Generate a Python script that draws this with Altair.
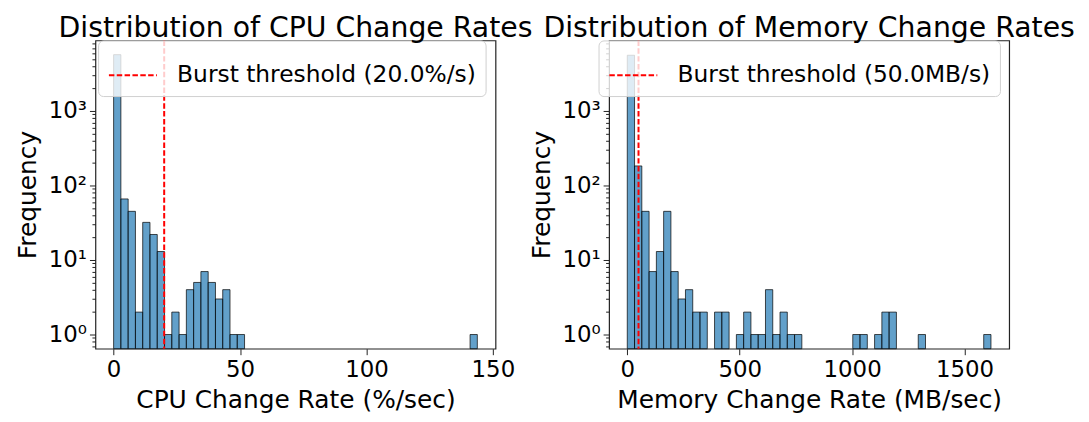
import altair as alt
import pandas as pd

# ---- data (50 bins each) ----
cpu_counts = [5700, 66, 45, 2, 32, 22, 13, 1, 2, 1,
              4, 5, 7, 5, 3, 4, 1, 1, 0, 0,
              0, 0, 0, 0, 0, 0, 0, 0, 0, 0,
              0, 0, 0, 0, 0, 0, 0, 0, 0, 0,
              0, 0, 0, 0, 0, 0, 0, 0, 0, 1]
mem_counts = [5600, 183, 45, 7, 13, 45, 7, 3, 4, 2,
              2, 0, 2, 2, 0, 1, 2, 1, 1, 4,
              1, 2, 1, 1, 0, 0, 0, 0, 0, 0,
              0, 1, 1, 0, 1, 2, 2, 0, 0, 0,
              1, 0, 0, 0, 0, 0, 0, 0, 0, 1]
cpu_range = [0.0, 143.85]
mem_range = [0.0, 1617.6]
cpu_threshold = 20.0
mem_threshold = 50.0
cpu_label = "Burst threshold (20.0%/s)"
mem_label = "Burst threshold (50.0MB/s)"
cpu_xticks = [0, 50, 100, 150]
mem_xticks = [0, 500, 1000, 1500]
y_major = [1, 10, 100, 1000]
y_minor = [0.7, 0.8, 0.9, 2, 3, 4, 5, 6, 7, 8, 9, 20, 30, 40, 50, 60, 70, 80, 90,
           200, 300, 400, 500, 600, 700, 800, 900, 2000, 3000, 4000, 5000, 6000, 7000, 8000]
y_domain = [0.645, 8850]

FONT = "DejaVu Sans"
W, H = 402.7, 310.3
SUP = "['\u2070','\u00b9','\u00b2','\u00b3','\u2074']"


def hist_df(counts, rng):
    n = len(counts)
    w = (rng[1] - rng[0]) / n
    rows = [{"start": rng[0] + i * w, "end": rng[0] + (i + 1) * w, "count": c}
            for i, c in enumerate(counts) if c > 0]
    return pd.DataFrame(rows)


def panel(counts, rng, xdomain, xticks, thr, label, xtitle, title, legx):
    df = hist_df(counts, rng)
    xscale = alt.Scale(domain=xdomain, nice=False, zero=False)
    yscale = alt.Scale(type="log", domain=y_domain, nice=False)
    xaxis = alt.Axis(values=xticks, format="d", labelFlush=False, domain=False, grid=False,
                     tickSize=6, tickColor="#222", labelFontSize=23, labelFont=FONT,
                     labelColor="black", labelPadding=4, title=xtitle, titleFont=FONT,
                     titleFontSize=25, titleFontWeight="normal", titleColor="black",
                     titlePadding=6)
    base = alt.Chart(df)
    bars = base.mark_bar(fill="#1f77b4", stroke="black", strokeWidth=1,
                         fillOpacity=0.7, strokeOpacity=0.7).encode(
        x=alt.X("start:Q", scale=xscale, axis=xaxis, title=xtitle),
        x2="end:Q",
        y=alt.Y("count:Q", scale=yscale,
                axis=alt.Axis(values=y_major, orient="left", domain=False, grid=False,
                              tickSize=6, tickColor="#222", labelFontSize=23,
                              labelFont=FONT, labelColor="black", labelPadding=3,
                              labelExpr="'10' + " + SUP + "[round(log(datum.value)/LN10)]",
                              title="Frequency", titleFont=FONT, titleFontSize=25,
                              titleFontWeight="normal", titleColor="black",
                              titlePadding=7.5)),
        y2=alt.datum(y_domain[0]),
    )
    minor = base.mark_bar(opacity=0).encode(
        x=alt.X("start:Q", scale=xscale, axis=xaxis, title=xtitle),
        x2="end:Q",
        y=alt.Y("count:Q", scale=yscale,
                axis=alt.Axis(values=y_minor, orient="left", domain=False, grid=False,
                              labels=False, tickSize=3.5, tickColor="#222", title=None)),
        y2=alt.datum(y_domain[0]),
    )
    tdf = pd.DataFrame({"threshold": [thr], "label": [label]})
    rule = alt.Chart(tdf).mark_rule(strokeDash=[5.5, 2.4], strokeWidth=2).encode(
        x=alt.X("threshold:Q", scale=xscale, axis=xaxis, title=xtitle),
        color=alt.Color("label:N", scale=alt.Scale(domain=[label], range=["#ff0000"]),
                        legend=alt.Legend(orient="none", legendX=legx, legendY=0,
                                          title=None, symbolType="stroke",
                                          symbolSize=2330, symbolStrokeWidth=2,
                                          symbolDash=[5.5, 2.4], labelFontSize=23.5,
                                          labelFont=FONT, labelColor="black",
                                          labelLimit=600,
                                          labelOffset=19, padding=9.5,
                                          fillColor="rgba(255,255,255,0.8)",
                                          strokeColor="#d0d0d0", cornerRadius=5)),
    )
    return alt.layer(bars, minor, rule).resolve_axis(y="independent").properties(
        width=W, height=H,
        title=alt.TitleParams(title, font=FONT, fontSize=28.5, fontWeight="normal",
                              color="black", anchor="middle", baseline="alphabetic",
                              offset=-25.6),
    )


cpu = panel(cpu_counts, cpu_range, [-7.19, 151.04], cpu_xticks, cpu_threshold, cpu_label,
            "CPU Change Rate (%/sec)", "Distribution of CPU Change Rates", 2.7)
mem = panel(mem_counts, mem_range, [-80.9, 1698.5], mem_xticks, mem_threshold, mem_label,
            "Memory Change Rate (MB/sec)", "Distribution of Memory Change Rates", -10.6)

chart = alt.hconcat(cpu, mem, spacing=114, bounds="flush").resolve_scale(
    color="independent"
).properties(
    padding={"left": 7, "top": 3.3, "right": 5, "bottom": 5},
    background="white",
).configure_view(stroke="#222", strokeWidth=1.2)

chart.save("out.html", embed_options={"renderer": "svg", "actions": False})
